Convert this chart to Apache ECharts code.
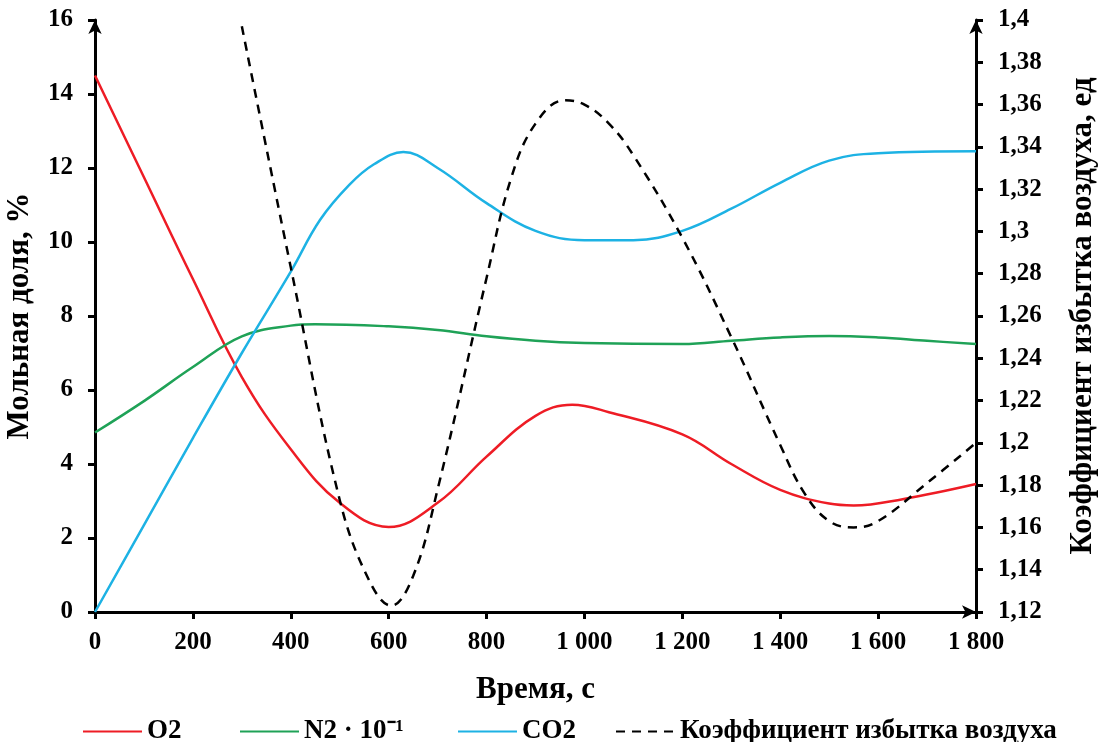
<!DOCTYPE html>
<html>
<head>
<meta charset="utf-8">
<script src="https://cdn.jsdelivr.net/npm/echarts@6.0.0/dist/echarts.min.js"></script>
<style>
  html, body { margin: 0; padding: 0; background: #fff; }
  #chart { width: 1098px; height: 742px; }
</style>
</head>
<body>
<div id="chart"></div>
<script>
// Time, s
const timeTicks = [0, 200, 400, 600, 800, 1000, 1200, 1400, 1600, 1800];

// Mole fraction, % — [time, value]
const o2 = [
  [0, 14.5], [100, 11.75], [200, 9.0], [300, 6.35], [400, 4.4], [500, 2.95],
  [600, 2.3], [700, 2.95], [800, 4.2], [900, 5.3], [975, 5.6], [1050, 5.4],
  [1200, 4.8], [1300, 4.0], [1400, 3.3], [1500, 2.93], [1550, 2.88],
  [1650, 3.05], [1800, 3.46]
];
const n2 = [
  [0, 4.85], [100, 5.7], [200, 6.62], [300, 7.45], [400, 7.74], [450, 7.78],
  [600, 7.72], [700, 7.62], [800, 7.45], [900, 7.33], [1000, 7.27],
  [1200, 7.24], [1300, 7.33], [1400, 7.42], [1500, 7.46], [1600, 7.42],
  [1700, 7.33], [1800, 7.24]
];
const co2 = [
  [0, 0], [100, 2.35], [200, 4.7], [300, 7.0], [400, 9.2], [460, 10.6],
  [520, 11.55], [570, 12.1], [630, 12.43], [700, 12.0], [800, 11.05],
  [900, 10.3], [1000, 10.05], [1100, 10.05], [1200, 10.3], [1300, 10.9],
  [1400, 11.6], [1500, 12.2], [1600, 12.4], [1800, 12.45]
];
// Excess air coefficient (right axis)
const excessAir = [
  [300, 1.397], [400, 1.283], [500, 1.173], [560, 1.135], [605, 1.123],
  [650, 1.137], [700, 1.178], [800, 1.278], [850, 1.325], [900, 1.351],
  [960, 1.362], [1000, 1.360], [1050, 1.351], [1100, 1.336], [1200, 1.297],
  [1300, 1.250], [1400, 1.199], [1450, 1.176], [1500, 1.163], [1550, 1.160],
  [1600, 1.163], [1700, 1.181], [1800, 1.200]
];

const seriesNames = ['O2', 'N2 · 10⁻¹', 'CO2', 'Коэффициент избытка воздуха'];

const FONT = '"Liberation Serif", "Times New Roman", serif';
const labelFont = { fontFamily: FONT, fontWeight: 'bold', fontSize: 25, color: '#000' };
const titleFont = Object.assign({}, labelFont, { fontSize: 31 });
const axisLine = (symbol) => ({
  show: true,
  symbol: symbol,
  symbolSize: [10, 14],
  lineStyle: { color: '#000', width: 3 }
});
const axisTick = { show: true, length: 7, lineStyle: { color: '#000', width: 3 } };

const chart = echarts.init(document.getElementById('chart'), null, { renderer: 'canvas' });

const legendAt = (name, left) => ({
  data: [name],
  left: left,
  top: 713,
  itemWidth: 59,
  itemHeight: 14,
  itemGap: 0,
  itemStyle: { opacity: 0 },
  textStyle: Object.assign({}, labelFont, { fontSize: 27 }),
  selectedMode: false
});

chart.setOption({
  backgroundColor: '#fff',
  animation: false,
  grid: {
    left: 95, right: 122, top: 20, bottom: 130,
    containLabel: false, outerBoundsMode: 'none'
  },
  legend: [
    legendAt(seriesNames[0], 77),
    legendAt(seriesNames[1], 234),
    legendAt(seriesNames[2], 452),
    legendAt(seriesNames[3], 610)
  ],
  xAxis: {
    type: 'value',
    min: timeTicks[0],
    max: timeTicks[timeTicks.length - 1],
    interval: timeTicks[1] - timeTicks[0],
    name: 'Время, с',
    nameLocation: 'middle',
    nameGap: 62,
    nameTextStyle: titleFont,
    axisLine: axisLine(['none', 'arrow']),
    axisTick: axisTick,
    splitLine: { show: false },
    axisLabel: Object.assign({}, labelFont, {
      margin: 18,
      formatter: (v) => String(v).replace(/\B(?=(\d{3})+(?!\d))/g, ' ')
    })
  },
  yAxis: [
    {
      type: 'value',
      position: 'left',
      min: 0, max: 16, interval: 2,
      name: 'Мольная доля, %',
      nameLocation: 'middle',
      nameRotate: 90,
      nameGap: 60,
      nameTextStyle: titleFont,
      axisLine: axisLine(['none', 'arrow']),
      axisTick: axisTick,
      splitLine: { show: false },
      axisLabel: Object.assign({}, labelFont, { margin: 22 })
    },
    {
      type: 'value',
      position: 'right',
      min: 1.12, max: 1.4, interval: 0.02,
      name: 'Коэффициент избытка воздуха, ед',
      nameLocation: 'middle',
      nameRotate: 90,
      nameGap: 91,
      nameTextStyle: titleFont,
      axisLine: axisLine(['none', 'arrow']),
      axisTick: axisTick,
      splitLine: { show: false },
      axisLabel: Object.assign({}, labelFont, {
        margin: 22,
        formatter: (v) => String(+v.toFixed(2)).replace('.', ',')
      })
    }
  ],
  series: [
    {
      name: seriesNames[0], type: 'line', data: o2, yAxisIndex: 0,
      smooth: 0.4, symbol: 'none', z: 3,
      lineStyle: { color: '#EE1C25', width: 2.5 }, itemStyle: { color: '#EE1C25' }
    },
    {
      name: seriesNames[1], type: 'line', data: n2, yAxisIndex: 0,
      smooth: 0.4, symbol: 'none', z: 3,
      lineStyle: { color: '#1FA257', width: 2.5 }, itemStyle: { color: '#1FA257' }
    },
    {
      name: seriesNames[2], type: 'line', data: co2, yAxisIndex: 0,
      smooth: 0.4, symbol: 'none', z: 3,
      lineStyle: { color: '#1DB2E4', width: 2.5 }, itemStyle: { color: '#1DB2E4' }
    },
    {
      name: seriesNames[3], type: 'line', data: excessAir, yAxisIndex: 1,
      smooth: 0.4, symbol: 'none', z: 4,
      lineStyle: { color: '#000', width: 2.5, type: [9, 7] }, itemStyle: { color: '#000' }
    }
  ]
});
</script>
</body>
</html>
